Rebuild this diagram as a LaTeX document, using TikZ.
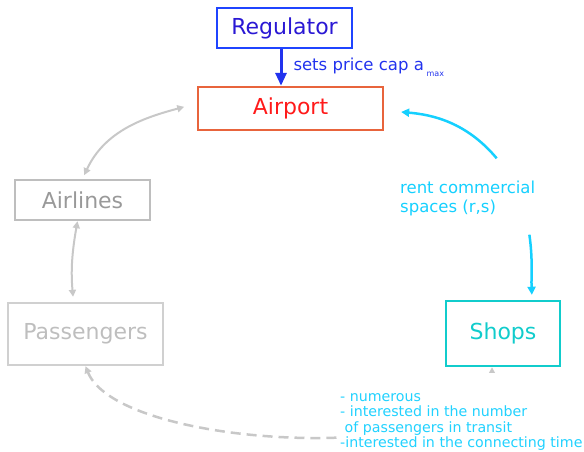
\documentclass[tikz,border=0pt]{standalone}
\usepackage{fontspec}
\setmainfont{DejaVu Sans}
\usepackage{tikz}
\usetikzlibrary{positioning, calc, arrows.meta}
\definecolor{regframe}{HTML}{1F44FF}
\definecolor{regtext}{HTML}{2A18D4}
\definecolor{capblue}{HTML}{2233EE}
\definecolor{airframe}{HTML}{E8643C}
\definecolor{airtext}{HTML}{FF1A1A}
\definecolor{linegray}{HTML}{C8C8C8}
\definecolor{paleteal}{HTML}{11CCCC}
\definecolor{rentcyan}{HTML}{15D0FF}
\tikzset{block/.style = {draw, line width=2.4pt, inner sep=0pt, font=\fontsize{22}{26}\selectfont}}
\tikzset{graylink/.style = {draw=linegray, line width=2pt, {Triangle[width=7pt,length=7pt]}-{Triangle[width=7pt,length=7pt]}}}
\tikzset{cyanlink/.style = {draw=rentcyan, line width=2.5pt, -{Triangle[width=8pt,length=8pt]}}}

\begin{document}
\begin{tikzpicture}[x=1pt, y=1pt]
            \useasboundingbox (0,0) rectangle (584,452);

            \node [block, draw=regframe, text=regtext, minimum width=135pt, minimum height=40pt] (reg) at (284.5,424) {Regulator};
            \node [block, draw=airframe, text=airtext, minimum width=185pt, minimum height=43pt] (air) at (290.5,343.5) {Airport};
            \node [block, draw=linegray!95!black, text=black!40, minimum width=135pt, minimum height=40pt] (airl) at (82.5,252) {Airlines};
            \node [block, draw=linegray!85!white, text=linegray!95!black, minimum width=155pt, minimum height=62pt] (pass) at (85.5,118) {Passengers};
            \node [block, draw=paleteal, text=paleteal, minimum width=114pt, minimum height=65pt] (shops) at (503,118.5) {Shops};

            \node [text=rentcyan, align=left, anchor=west, inner sep=0pt, font=\fontsize{16.5}{19}\selectfont] (rent) at (400,254) {rent commercial\\spaces (r,s)};

            % regulator sets the cap
            \draw [draw=capblue, line width=3pt, -{Triangle[width=11pt,length=13pt]}] ([xshift=-3.5pt]reg.south) -- ([xshift=-3.5pt]reg.south |- air.north)
                node [midway, right=11pt, text=capblue, inner sep=0pt, font=\fontsize{16.5}{19}\selectfont] {sets price cap a\,\raisebox{-6pt}{\fontsize{8}{8}\selectfont max}};

            \draw [graylink, shorten <=13pt, shorten >=4pt] ([yshift=5pt]air.west) to[out=195, in=65] (airl.north);
            \draw [graylink, shorten >=5pt] ([xshift=-5pt]airl.south) to[out=260, in=95] ([xshift=-12pt]pass.north);

            \draw [cyanlink, shorten >=17pt] ($(rent.north)+(29,22)$) to[out=130, in=-5] ([yshift=-2pt]air.east);
            \draw [cyanlink, shorten >=5pt] ($(rent.south east)+(-6,-19)$) to[out=-82, in=92] ([xshift=29pt]shops.north);

            \draw [graylink, line width=2.5pt, dash pattern=on 10pt off 6pt] (pass.south) .. controls (120,0) and (492,-15) .. ([xshift=-11pt]shops.south);

            \node [text=rentcyan!95!white, align=left, anchor=west, fill=white, inner xsep=1pt, inner ysep=0pt, minimum height=98pt, font=\fontsize{14.2}{15.6}\selectfont] (note) at (339,30) {- numerous\\- interested in the number\\ \ of passengers in transit\\-interested in the connecting time};
        \end{tikzpicture}
\end{document}
